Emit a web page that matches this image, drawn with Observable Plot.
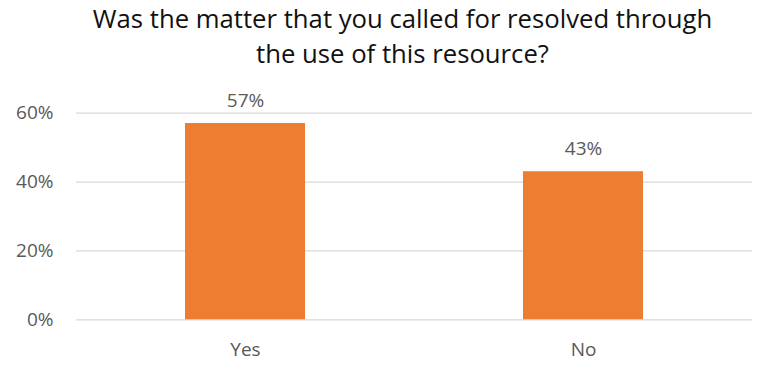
<!DOCTYPE html>
<html>
<head>
<meta charset="utf-8">
<script src="https://cdn.jsdelivr.net/npm/d3@7"></script>
<script src="https://cdn.jsdelivr.net/npm/@observablehq/plot@0.6"></script>
<style>
  html, body { margin: 0; padding: 0; background: #fff; }
  #wrap { position: relative; width: 757px; height: 365px; overflow: hidden; }
  #title { position: absolute; left: 24px; top: 1px; width: 757px; text-align: center;
    font-family: "Open Sans", sans-serif; font-size: 25.7px; line-height: 35px; color: #111; }
  #chart { position: absolute; left: 0; top: 0; }
</style>
</head>
<body>
<div id="wrap">
  <div id="chart"></div>
  <div id="title">Was the matter that you called for resolved through<br>the use of this resource?</div>
</div>
<script>
const categories = ["Yes", "No"];
const values = [0.57, 0.43];
const yTicks = [0, 0.2, 0.4, 0.6];

const data = categories.map((c, i) => ({category: c, value: values[i]}));
const font = "'Open Sans', sans-serif";

const chart = Plot.plot({
  width: 757,
  height: 365,
  marginTop: 112.7,
  marginBottom: 45.7,
  marginLeft: 76,
  marginRight: 5,
  style: {fontFamily: font, fontSize: "19px", color: "#595959", background: "#fff"},
  x: {domain: categories, paddingInner: 0.645, paddingOuter: 0.3225, label: null, tickSize: 0, tickPadding: 23},
  y: {domain: [0, 0.6], ticks: yTicks, tickFormat: d3.format(".0%"), label: null, tickSize: 0, tickPadding: 23},
  marks: [
    Plot.ruleY(yTicks, {stroke: "#d9d9d9", strokeWidth: 1.3}),
    Plot.barY(data, {x: "category", y: "value", fill: "#ED7D31"}),
    Plot.text(data, {x: "category", y: "value", text: d => d3.format(".0%")(d.value),
      lineAnchor: "bottom", dy: -17, fill: "#595959", fontSize: 19})
  ]
});
document.getElementById("chart").appendChild(chart);
</script>
</body>
</html>
